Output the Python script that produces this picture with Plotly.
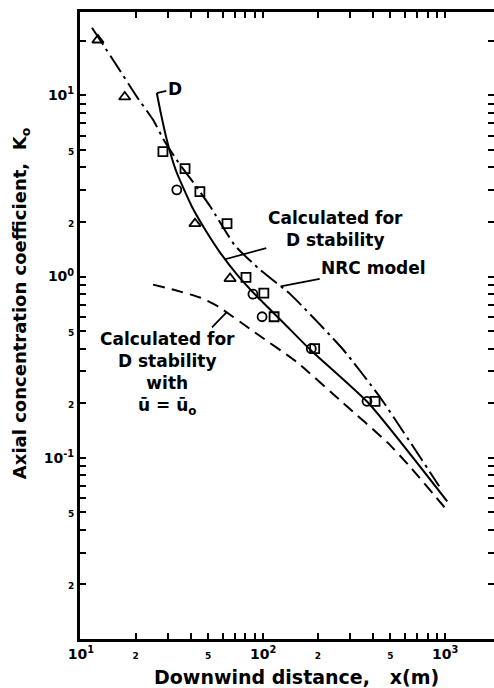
import numpy as np
import plotly.graph_objects as go

# Observed axial concentration coefficients versus downwind distance (m)
tri_x = [12.4, 17.4, 42.3, 65.9]
tri_y = [20.2, 9.8, 1.96, 0.975]
sq_x = [28.2, 37.3, 45.0, 63.4, 80.6, 101, 115, 192, 412]
sq_y = [4.89, 3.94, 2.94, 1.96, 0.99, 0.81, 0.60, 0.40, 0.205]
circ_x = [33.6, 88, 98.8, 184, 372]
circ_y = [3.01, 0.80, 0.60, 0.40, 0.205]

# Calculated for D stability
calc_x = [26.1, 27.3, 28.9, 30.8, 33.6, 40.7, 49.2, 58.1, 72, 92.7, 129, 181, 380, 1026]
calc_y = [10.3, 8.2, 6.3, 4.9, 3.74, 2.43, 1.75, 1.356, 1.026, 0.776, 0.558, 0.396, 0.20, 0.0575]

# NRC model
nrc_x = [11.5, 15.4, 20.3, 24.9, 28.9, 34.1, 42.3, 51.1, 70.2, 96.3, 141, 275, 440, 927]
nrc_y = [23.6, 15.1, 9.81, 7.33, 5.54, 4.30, 3.21, 2.45, 1.48, 1.09, 0.80, 0.396, 0.215, 0.0697]

# Calculated for D stability with u = u0
uo_x = [24.9, 32, 45.1, 56.6, 90.3, 154, 276, 480, 643, 1012]
uo_y = [0.903, 0.848, 0.766, 0.684, 0.491, 0.336, 0.200, 0.122, 0.089, 0.052]

# Axis ticks: labelled positions and unlabelled minor positions
x_labelled = [10, 20, 50, 100, 200, 500, 1000]
x_minor = [m * 10 ** e for e in (1, 2) for m in (3, 4, 6, 7, 8, 9)]
y_labelled = [0.02, 0.05, 0.1, 0.2, 0.5, 1, 2, 5, 10]
y_minor = [m * 10.0 ** e for e in (-2, -1, 0) for m in (3, 4, 6, 7, 8, 9)] + [20]
y_all = sorted(y_labelled + y_minor)

SMALL = '<span style="font-size:9px">{}</span>'
DECADE = {-1: "10<sup>-1</sup>", 0: "10<sup>0</sup>", 1: "10<sup>1</sup>",
          2: "10<sup>2</sup>", 3: "10<sup>3</sup>"}


def tick_label(v):
    e = int(np.floor(np.log10(v) + 1e-9))
    lead = round(v / 10.0 ** e)
    return DECADE[e] if lead == 1 else SMALL.format(lead)


FONT = dict(family="DejaVu Sans", color="black", weight="bold")
XR = [0.995, 3.268]
YR = [-2.0, 1.46]

fig = go.Figure()

curve = dict(color="black", width=2, shape="spline", smoothing=0.5)
fig.add_trace(go.Scatter(x=calc_x, y=calc_y, mode="lines", line=curve))
fig.add_trace(go.Scatter(x=nrc_x, y=nrc_y, mode="lines",
                         line=dict(curve, dash="20px,5px,3px,5px")))
fig.add_trace(go.Scatter(x=uo_x, y=uo_y, mode="lines",
                         line=dict(curve, dash="12px,7px")))

marker_line = dict(color="black", width=1.8)
fig.add_trace(go.Scatter(x=tri_x, y=tri_y, mode="markers",
                         marker=dict(symbol="triangle-up-open", size=10, color="black", line=marker_line)))
fig.add_trace(go.Scatter(x=sq_x, y=sq_y, mode="markers",
                         marker=dict(symbol="square-open", size=9, color="black", line=marker_line)))
fig.add_trace(go.Scatter(x=circ_x, y=circ_y, mode="markers",
                         marker=dict(symbol="circle-open", size=9, color="black", line=marker_line)))

# Transparent copy of the calculated curve on the right-hand axis so its ticks are drawn
fig.add_trace(go.Scatter(x=calc_x, y=calc_y, xaxis="x", yaxis="y2", mode="lines",
                         line=dict(width=1, color="rgba(0,0,0,0)"),
                         hoverinfo="skip", showlegend=False))


def on_curve(xs, ys, x):
    """log-log interpolation of a curve, returned in log10 units for annotations."""
    lx = np.log10(x)
    ly = np.interp(lx, np.log10(xs), np.log10(ys))
    return lx, ly


annotations = []

for xs, ys, xt, text, ax, ay in [
    (calc_x, calc_y, 62, "Calculated for<br>D stability", 110, -30),
    (nrc_x, nrc_y, 125, "NRC model", 93, -18),
    (uo_x, uo_y, 63, "Calculated for<br>D stability<br>with<br>ū = ū<sub>o</sub>", -59, 61),
]:
    lx, ly = on_curve(xs, ys, xt)
    annotations.append(dict(x=lx, y=ly, xref="x", yref="y", text=text, showarrow=True,
                            arrowhead=0, arrowwidth=1.8, arrowcolor="black",
                            ax=ax, ay=ay, font=dict(FONT, size=17), align="center"))

# "D" tag at the start of the calculated curve
annotations.append(dict(x=np.log10(calc_x[0]), y=np.log10(calc_y[0]), xref="x", yref="y",
                        text="D", showarrow=True, arrowhead=0, arrowwidth=1.8,
                        arrowcolor="black", ax=18, ay=-4, font=dict(FONT, size=17)))

# Axis titles
annotations.append(dict(x=0.524, y=-0.061, xref="paper", yref="paper",
                        text="Downwind distance,\u00a0\u00a0\u00a0x(m)", showarrow=False,
                        font=dict(FONT, size=19), xanchor="center", yanchor="middle"))
annotations.append(dict(x=-0.142, y=0.536, xref="paper", yref="paper",
                        text="Axial concentration coefficient,\u00a0\u00a0K<sub>o</sub>",
                        showarrow=False, textangle=-90,
                        font=dict(FONT, size=18), xanchor="center", yanchor="middle"))

common = dict(type="log", showgrid=False, zeroline=False, ticks="inside", tickcolor="black")
short_minor = dict(ticks="inside", ticklen=6, tickwidth=2, tickcolor="black", showgrid=False)

fig.update_layout(
    width=494, height=688,
    margin=dict(l=80, r=0, t=12, b=49),
    paper_bgcolor="white", plot_bgcolor="white",
    showlegend=False,
    annotations=annotations,
    xaxis=dict(common, range=XR, tickvals=x_labelled, ticktext=[tick_label(v) for v in x_labelled],
               ticklen=6, tickwidth=2, showline=True, linewidth=2.5, linecolor="black",
               mirror="ticks", tickfont=dict(FONT, size=14),
               minor=dict(short_minor, tickvals=x_minor)),
    yaxis=dict(common, range=YR, tickvals=y_labelled, ticktext=[tick_label(v) for v in y_labelled],
               ticklen=6, tickwidth=2, showline=True, linewidth=3, linecolor="black",
               mirror=False, tickfont=dict(FONT, size=14),
               minor=dict(short_minor, tickvals=y_minor)),
    # tick marks only along the right edge
    yaxis2=dict(common, range=YR, overlaying="y", anchor="x", side="right",
                tickvals=y_all, ticklen=6, tickwidth=2, showticklabels=False,
                showline=False),
)

fig.write_html("out.html")
